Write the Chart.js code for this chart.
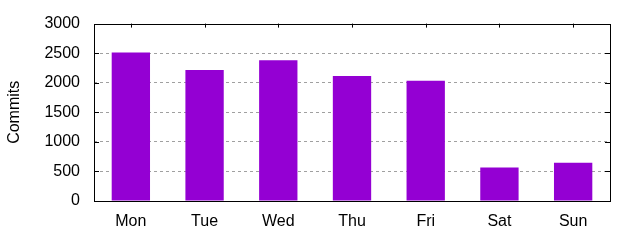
<!DOCTYPE html>
<html>
<head>
<meta charset="utf-8">
<script src="https://cdn.jsdelivr.net/npm/chart.js@4"></script>
<style>
  body { margin: 0; background: #fff; }
  canvas { display: block; }
</style>
</head>
<body>
<canvas id="commits" width="640" height="240"></canvas>
<script>
const days = ['Mon', 'Tue', 'Wed', 'Thu', 'Fri', 'Sat', 'Sun'];
const commits = [2510, 2215, 2380, 2115, 2035, 565, 645];
const yTicks = [0, 500, 1000, 1500, 2000, 2500, 3000];

const FONT = { family: "'Liberation Sans', Arial, sans-serif", size: 16 };

// gnuplot style frame: border box plus inward ticks
const framePlugin = {
  id: 'frame',
  afterDatasetsDraw(chart) {
    const { ctx, chartArea, scales } = chart;
    const { left, right, top, bottom } = chartArea;
    ctx.save();
    ctx.strokeStyle = '#000';
    ctx.lineWidth = 1;
    ctx.beginPath();
    yTicks.forEach((v) => {
      const py = Math.round(scales.y.getPixelForValue(v)) + 0.5;
      ctx.moveTo(left, py); ctx.lineTo(left + 5, py);
      ctx.moveTo(right, py); ctx.lineTo(right - 5, py);
    });
    days.forEach((d, i) => {
      const px = Math.round(scales.x.getPixelForValue(i)) + 0.5;
      ctx.moveTo(px, top); ctx.lineTo(px, top + 4);
    });
    ctx.stroke();
    ctx.strokeRect(Math.round(left) + 0.5, Math.round(top) + 0.5,
      Math.round(right - left), Math.round(bottom - top));
    ctx.restore();
  },
};

new Chart(document.getElementById('commits'), {
  type: 'bar',
  data: {
    labels: days,
    datasets: [{
      data: commits,
      backgroundColor: '#9400d3',
      borderWidth: 0,
      barPercentage: 0.52,
      categoryPercentage: 1,
    }],
  },
  options: {
    responsive: false,
    animation: false,
    layout: { padding: { top: 19, right: 30, bottom: 0, left: 0 } },
    plugins: { legend: { display: false }, tooltip: { enabled: false } },
    scales: {
      x: {
        grid: { display: false },
        border: { display: false },
        ticks: { color: '#000', font: FONT, padding: 3 },
        afterFit: (scale) => { scale.height = 39; },
      },
      y: {
        min: 0,
        max: 3000,
        afterBuildTicks: (scale) => { scale.ticks = yTicks.map((v) => ({ value: v })); },
        grid: {
          drawTicks: false,
          color: (c) => (c.tick && (c.tick.value === 0 || c.tick.value === 3000) ? 'rgba(0,0,0,0)' : '#a0a0a0'),
          lineWidth: 1,
        },
        border: { display: false, dash: [3, 3] },
        ticks: { color: '#000', font: FONT, padding: 14, callback: (v) => String(v) },
        title: { display: true, text: 'Commits', color: '#000', font: FONT, padding: { top: 5, bottom: 0 } },
        afterFit: (scale) => { scale.width = 94; },
      },
    },
  },
  plugins: [framePlugin],
});
</script>
</body>
</html>
